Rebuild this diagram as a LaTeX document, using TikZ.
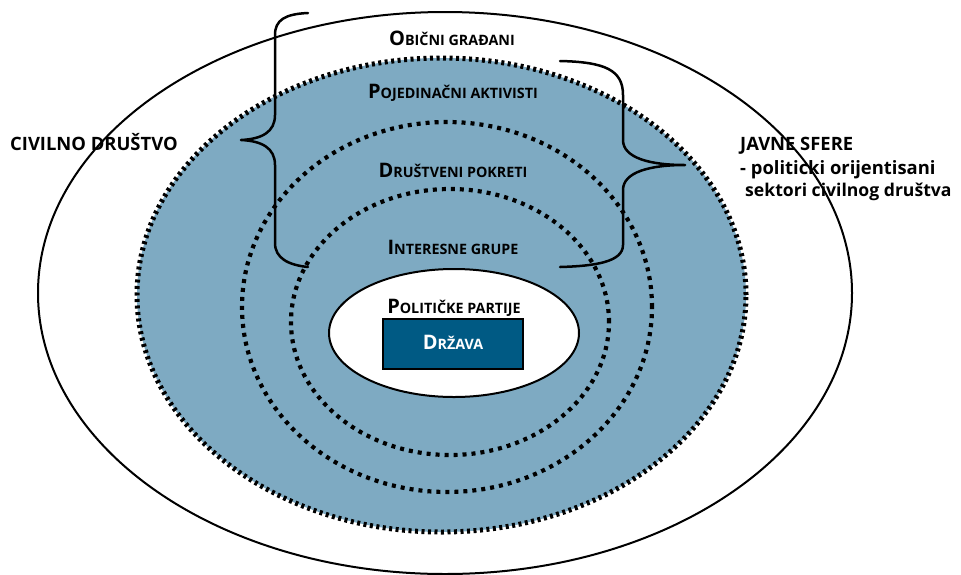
\documentclass[tikz,border=0pt]{standalone}
\usepackage{fontspec}
\setmainfont{Open Sans}
\usetikzlibrary{shapes.geometric}
\definecolor{civblue}{HTML}{7EAAC2}
\definecolor{statebox}{HTML}{005A84}
\newcommand\mysc[2]{{\fontsize{20}{20}\selectfont #1}{\fontsize{14.3}{14}\selectfont #2}}
\begin{document}
\begin{tikzpicture}[x=1pt,y=-1pt,
  ring/.style={ellipse, inner sep=0pt, outer sep=0pt},
  bigdots/.style={line width=5pt, dash pattern=on 3pt off 3.5pt},
  middots/.style={line width=4.2pt, dash pattern=on 4pt off 5pt},
  lab/.style={font=\bfseries, inner sep=0pt, anchor=base},
  side/.style={font=\bfseries\fontsize{18.4}{22}\selectfont, inner sep=0pt, anchor=base west},
  brace/.style={line width=2.5pt, line cap=round, line join=round}]
\useasboundingbox (0,0) rectangle (961,574);
\node[ring, draw, line width=2pt, minimum width=814pt, minimum height=562pt] (outer) at (445,293) {};
\node[ring, fill=civblue, draw, bigdots, minimum width=609pt, minimum height=474pt] (sphere) at (441.5,295) {};
\node[ring, draw, middots, minimum width=410pt, minimum height=370pt] (movements) at (447,307) {};
\node[ring, draw, middots, minimum width=318pt, minimum height=266pt] (interest) at (450,322) {};
\node[ring, fill=white, draw, line width=2pt, minimum width=250pt, minimum height=128pt] (parties) at (454,333) {};
\node[rectangle, fill=statebox, draw, line width=2.5pt, minimum width=140pt, minimum height=50pt, inner sep=0pt] (state) at (453,344) {};
% braces
\draw[brace] (308,13) .. controls (285,14) and (275,20) .. (275,35) -- (275,115)
  .. controls (275,132) and (262,139) .. (241,140)
  .. controls (262,141) and (275,148) .. (275,165) -- (275,243)
  .. controls (275,258) and (288,265) .. (308,267);
\draw[brace] (560,61) .. controls (605,62) and (623,70) .. (623,95) -- (623,140)
  .. controls (623,158) and (650,165) .. (685,165)
  .. controls (650,165) and (623,172) .. (623,190) -- (623,245)
  .. controls (623,262) and (595,266) .. (560,267);
% labels
\node[lab] (t1) at (452,45) {\mysc{O}{BIČNI GRAĐANI}};
\node[lab] (t2) at (453,98) {\mysc{P}{OJEDINAČNI AKTIVISTI}};
\node[lab] (t3) at (453,177) {\mysc{D}{RUŠTVENI POKRETI}};
\node[lab] (t4) at (453,254) {\mysc{I}{NTERESNE GRUPE}};
\node[lab] (t5) at (454,313) {\mysc{P}{OLITIČKE PARTIJE}};
\node[lab, text=white] (t6) at (453,349) {\mysc{D}{RŽAVA}};
\node[side] (cd) at (10,150) {CIVILNO DRUŠTVO};
\node[side] (js1) at (740,150) {JAVNE SFERE};
\node[side] (js2) at (740,174) {- politicki orijentisani};
\node[side, font=\bfseries\fontsize{17.6}{22}\selectfont] (js3) at (745,196) {sektori civilnog društva};
\end{tikzpicture}
\end{document}
